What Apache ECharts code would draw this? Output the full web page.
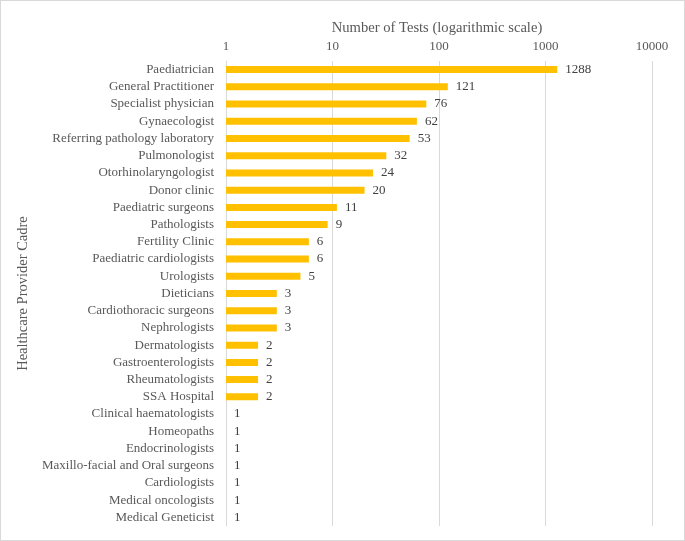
<!DOCTYPE html>
<html lang="en">
<head>
  <meta charset="UTF-8">
  <style>
    html, body { margin: 0; padding: 0; background: #fff; }
    #main { width: 685px; height: 541px; box-sizing: border-box; border: 1px solid #d9d9d9; }
  </style>
  <script src="https://cdn.jsdelivr.net/npm/echarts@6/dist/echarts.min.js"></script>
</head>
<body>
  <div id="main"></div>
  <script>
    // categories, top to bottom
    var cadres = [
      'Paediatrician', 'General Practitioner', 'Specialist physician', 'Gynaecologist',
      'Referring pathology laboratory', 'Pulmonologist', 'Otorhinolaryngologist', 'Donor clinic',
      'Paediatric surgeons', 'Pathologists', 'Fertility Clinic', 'Paediatric cardiologists',
      'Urologists', 'Dieticians', 'Cardiothoracic surgeons', 'Nephrologists', 'Dermatologists',
      'Gastroenterologists', 'Rheumatologists', 'SSA Hospital', 'Clinical haematologists',
      'Homeopaths', 'Endocrinologists', 'Maxillo-facial and Oral surgeons', 'Cardiologists',
      'Medical oncologists', 'Medical Geneticist'
    ];
    var tests = [1288, 121, 76, 62, 53, 32, 24, 20, 11, 9, 6, 6, 5, 3, 3, 3, 2, 2, 2, 2, 1, 1, 1, 1, 1, 1, 1];

    var serif = '"Liberation Serif", "DejaVu Serif", serif';
    var chart = echarts.init(document.getElementById('main'));

    chart.setOption({
      animation: false,
      textStyle: { fontFamily: serif },
      title: {
        text: 'Number of Tests (logarithmic scale)',
        left: 431, top: 15, textAlign: 'center',
        textStyle: { fontFamily: serif, fontSize: 14.6, fontWeight: 'normal', color: '#595959' }
      },
      grid: { left: 225, right: 32, top: 60, bottom: 14 },
      xAxis: {
        type: 'log',
        logBase: 10,
        position: 'top',
        min: 1, max: 10000,
        axisLine: { show: false },
        axisTick: { show: false },
        axisLabel: {
          fontFamily: serif, fontSize: 13, color: '#595959', margin: 8,
          formatter: function (v) { return String(v); }
        },
        splitLine: { show: true, lineStyle: { color: '#d9d9d9', width: 1 } }
      },
      yAxis: {
        type: 'category',
        inverse: true,
        data: cadres,
        name: 'Healthcare Provider Cadre',
        nameLocation: 'middle',
        nameRotate: 90,
        nameGap: 189,
        nameTextStyle: { fontFamily: serif, fontSize: 14.5, color: '#595959' },
        axisLine: { show: true, lineStyle: { color: '#d9d9d9' } },
        axisTick: { show: false },
        axisLabel: { fontFamily: serif, fontSize: 13, color: '#595959', margin: 12 }
      },
      series: [{
        type: 'bar',
        data: tests,
        barWidth: 7,
        itemStyle: { color: '#FFC000' },
        label: {
          show: true, position: 'right', distance: 8,
          fontFamily: serif, fontSize: 13, color: '#404040'
        }
      }]
    });
  </script>
</body>
</html>
